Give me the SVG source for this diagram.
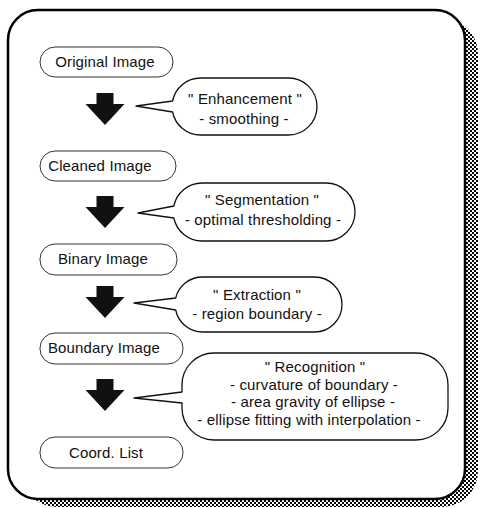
<svg xmlns="http://www.w3.org/2000/svg" width="480" height="508" viewBox="0 0 480 508">
<defs>
<pattern id="checker" width="4" height="4" patternUnits="userSpaceOnUse">
<rect width="4" height="4" fill="#fff"/>
<rect x="0" y="0" width="2" height="2" fill="#000"/>
<rect x="2" y="2" width="2" height="2" fill="#000"/>
</pattern>
<path id="arrow" d="M-8.5,0 H8.5 V11 H19.5 L0,32 L-19.5,11 H-8.5 Z"/>
</defs>
<style>
text{font-family:"Liberation Sans",Arial,sans-serif;font-size:15px;letter-spacing:0.15px;fill:#111;text-anchor:middle}
.node rect{fill:#fff;stroke:#333;stroke-width:1}
.callout path{fill:#fff;stroke:#111;stroke-width:1.3;stroke-linejoin:round}
.arr{fill:#111}
</style>
<rect x="21" y="18" width="457" height="489" rx="36" fill="url(#checker)"/>
<rect x="8" y="10" width="457" height="489" rx="30" fill="#fff" stroke="#000" stroke-width="2.5"/>

<g id="connectors">
<use href="#arrow" class="arr" x="105" y="93"/>
<use href="#arrow" class="arr" x="105" y="196"/>
<use href="#arrow" class="arr" x="105" y="286"/>
<use href="#arrow" class="arr" x="105" y="379"/>
</g>

<g id="n1" class="node"><rect x="40" y="47" width="133" height="30" rx="15"/><text x="105" y="67">Original Image</text></g>
<g id="n2" class="node"><rect x="40" y="151" width="136" height="30" rx="15"/><text x="100" y="171">Cleaned Image</text></g>
<g id="n3" class="node"><rect x="40" y="244" width="137" height="31" rx="15"/><text x="103" y="264">Binary Image</text></g>
<g id="n4" class="node"><rect x="40" y="333" width="143" height="31" rx="15"/><text x="104" y="353">Boundary Image</text></g>
<g id="n5" class="node"><rect x="40" y="437" width="143" height="31" rx="15"/><text x="106" y="458">Coord. List</text></g>

<g id="c1" class="callout">
<path d="M172.6,101 A28.5,28.5 0 0 1 200.5,78 H288.5 A28.5,28.5 0 0 1 288.5,135 H200.5 A28.5,28.5 0 0 1 172.6,112 L136,106 Z"/>
<text x="245" y="104">" Enhancement "</text>
<text x="244" y="124">- smoothing -</text>
</g>
<g id="c2" class="callout">
<path d="M173.8,206 A29,29 0 0 1 202,183 H326 A29,29 0 0 1 326,241 H202 A29,29 0 0 1 173.8,218 L138,213 Z"/>
<text x="262" y="205">" Segmentation "</text>
<text x="263" y="225">- optimal thresholding -</text>
</g>
<g id="c3" class="callout">
<path d="M175.7,298 A27.5,27.5 0 0 1 202.5,277 H314.5 A27.5,27.5 0 0 1 314.5,332 H202.5 A27.5,27.5 0 0 1 175.7,310 L134,303 Z"/>
<text x="257" y="300">" Extraction "</text>
<text x="257" y="319">- region boundary -</text>
</g>
<g id="c4" class="callout">
<path d="M182,392 V385 A32,32 0 0 1 214,353 H416 A32,32 0 0 1 448,385 V408 A32,32 0 0 1 416,440 H214 A32,32 0 0 1 182,408 V403 L134,398 Z"/>
<text x="315" y="372">" Recognition "</text>
<text x="314" y="390">- curvature of boundary -</text>
<text x="313" y="407">- area gravity of ellipse -</text>
<text x="309" y="425">- ellipse fitting with interpolation -</text>
</g>
</svg>
